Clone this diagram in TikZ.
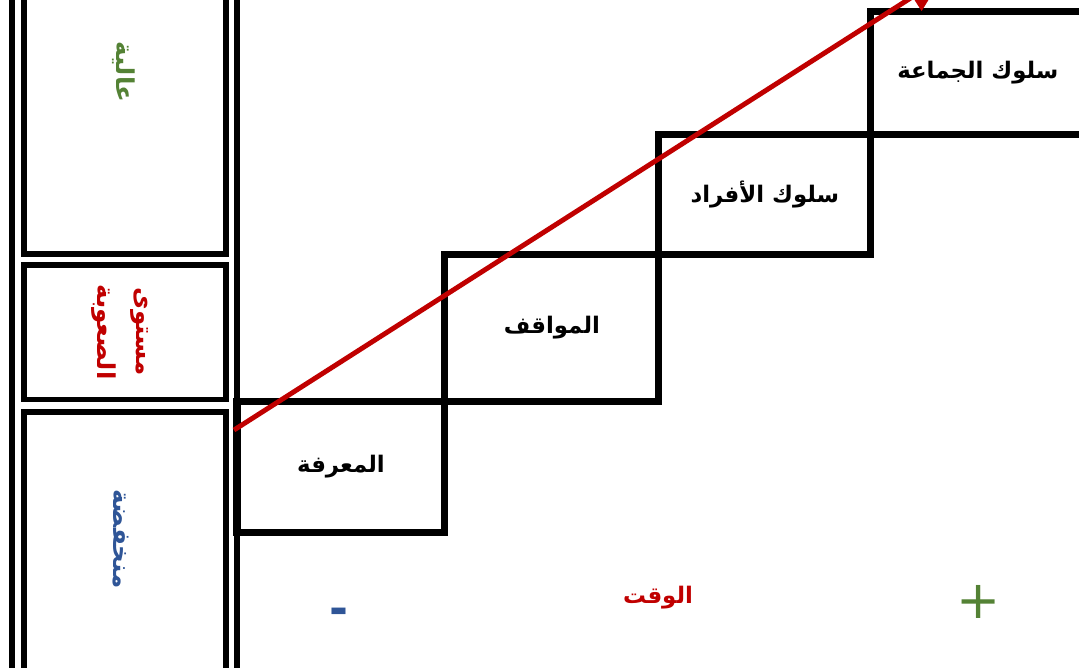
\documentclass[tikz,border=0pt]{standalone}
\usepackage{fontspec}
\newfontfamily\arabicfont[Script=Arabic]{DejaVu Sans}
\TeXXeTstate=1
\usetikzlibrary{arrows.meta,positioning}
\definecolor{lvlgreen}{HTML}{548235}
\definecolor{lvlred}{HTML}{C00000}
\definecolor{lvlblue}{HTML}{2F5597}
\tikzset{stairbox/.style={draw,line width=4pt,outer sep=0pt,inner sep=0pt,anchor=south west,font=\arabicfont\bfseries\fontsize{13}{15}\selectfont},levelbox/.style={draw,line width=3.4pt,outer sep=0pt,inner sep=0pt,minimum width=4.04cm},leveltext/.style={rotate=-90,align=center,font=\arabicfont\bfseries\fontsize{14}{22}\selectfont},axis/.style={font=\arabicfont\bfseries\fontsize{13}{15}\selectfont},arrow/.style={-{Triangle[length=7mm,width=6.5mm]},line width=2.8pt,lvlred}}
\begin{document}
\begin{tikzpicture}[x=0.02cm,y=-0.02cm]
\useasboundingbox (0,0) rectangle (1079,667);
\clip (0,0) rectangle (1079,667);
% left scale
\draw[line width=3.4pt] (12,-20) -- (12,690);
\draw[line width=3.4pt] (237,-20) -- (237,690);
\node[levelbox,minimum height=5.5cm] (high) at (125,117) {};
\node[levelbox,minimum height=2.69cm] (mid) at (125,332.25) {};
\node[levelbox,minimum height=5.76cm] (low) at (125,556) {};
\node[leveltext,text=lvlgreen] at (124,72) {\beginR عالية\endR};
\node[leveltext,text=lvlred] at (120,332) {\beginR مستوى\endR\\\beginR الصعوبة\endR};
\node[leveltext,text=lvlblue] at (121,539) {\beginR منخفضة\endR};
% stairs
\node[stairbox,minimum width=4.16cm,minimum height=2.63cm] (knowledge) at (237,532.5) {\beginR المعرفة\endR};
\node[stairbox,minimum width=4.28cm,minimum height=2.94cm] (attitudes) at (knowledge.north east) {\beginR المواقف\endR};
\node[stairbox,minimum width=4.24cm,minimum height=2.4cm] (individual) at (attitudes.north east) {\beginR سلوك الأفراد\endR};
\node[stairbox,minimum width=4.28cm,minimum height=2.45cm] (group) at (individual.north east) {\beginR سلوك الجماعة\endR};
% time axis
\node[axis,text=lvlblue,font=\arabicfont\bfseries\fontsize{26}{28}\selectfont] (minus) at (339,616) {-};
\node[axis,text=lvlred] (time) at (658,598) {\beginR الوقت\endR};
\node[axis,text=lvlgreen,font=\arabicfont\fontsize{30}{32}\selectfont] (plus) at (979,602) {+};
\coordinate (start) at (234,430);
\coordinate (end) at (942,-22);
\draw[arrow] (start) -- (end);
\end{tikzpicture}
\end{document}
